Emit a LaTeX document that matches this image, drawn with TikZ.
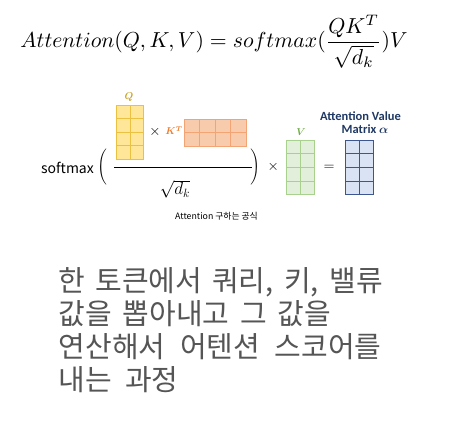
\documentclass[tikz,border=0pt]{standalone}
\usepackage{amsmath}
\usepackage{fontspec}
\newfontfamily\krfont{Noto Sans CJK KR}
\newfontfamily\calfont{Carlito}
\usetikzlibrary{calc}

\definecolor{qfill}{HTML}{FFE699}
\definecolor{qline}{HTML}{EBC142}
\definecolor{qtext}{HTML}{C9A227}
\definecolor{kfill}{HTML}{F8CBAD}
\definecolor{kline}{HTML}{F2A474}
\definecolor{ktext}{HTML}{ED7D31}
\definecolor{vfill}{HTML}{E2EFDA}
\definecolor{vline}{HTML}{A9D18E}
\definecolor{vtext}{HTML}{70AD47}
\definecolor{afill}{HTML}{DAE3F3}
\definecolor{aline}{HTML}{3D5590}
\definecolor{navy}{HTML}{1F3864}
\definecolor{bodytext}{HTML}{555555}

% stretchable word gaps for the Korean paragraph
\newcommand{\widegaps}{\setlength{\spaceskip}{8pt plus 40pt minus 6pt}}
% one paragraph line spread to a set width
\newcommand{\spreadline}[2]{\makebox[#1][s]{#2}}

% grid lines inside a matrix node: column fractions, row fractions
\newcommand{\matgrid}[4]{%
  \foreach \f in {#2}
    \draw[#4] ($(#1.north west)!\f!(#1.north east)$) -- ($(#1.south west)!\f!(#1.south east)$);
  \foreach \f in {#3}
    \draw[#4] ($(#1.north west)!\f!(#1.south west)$) -- ($(#1.north east)!\f!(#1.south east)$);
}

\begin{document}
\begin{tikzpicture}[x=1pt,y=-1pt,
  mat/.style={draw, line width=1pt, inner sep=0pt, outer sep=0pt},
  matlabel/.style={font=\fontsize{10}{12}\selectfont\bfseries\itshape, inner sep=0pt},
  op/.style={font=\fontsize{14}{16}\selectfont, inner sep=0pt},
  paren/.style={font=\fontsize{13}{15}\selectfont, inner sep=0pt},
  para/.style={font=\krfont\fontsize{29}{33}\selectfont\widegaps,
               text=bodytext, anchor=base west, inner sep=0pt},
  albl/.style={font=\calfont\bfseries\fontsize{12.5}{14}\selectfont, text=navy, inner sep=0pt}
]
\useasboundingbox (0,0) rectangle (475,436);

% top formula
\node[anchor=base west, inner sep=0pt, font=\fontsize{10}{12}\selectfont, scale=2.17] (eq) at (20,48)
  {$\displaystyle Attention(Q,K,V)=softmax(\frac{QK^T}{\sqrt{d_k}})V$};

% softmax of the scaled product
\node[font=\krfont\fontsize{14}{16}\selectfont, inner sep=0pt] (sm) at (67.5,167.5) {softmax};
\node[paren] (lp) at (102,167.5) {$\Biggl($};
\node[paren] (rp) at (255,167.5) {$\Biggr)$};
\coordinate (barL) at (114,167.7);
\coordinate (barR) at (252,167.7);
\draw[line width=1.3pt] (barL) -- (barR);
\node[font=\fontsize{18}{20}\selectfont, inner sep=0pt] (dk) at (175,189) {$\sqrt{d_k}$};

% Q matrix
\node[mat, draw=qline, fill=qfill, minimum width=27pt, minimum height=54pt] (Q) at (130.2,132.3) {};
\matgrid{Q}{0.5}{0.25,0.5,0.75}{qline, line width=1pt}
\node[matlabel, text=qtext] (Ql) at (129,97.5) {$\boldsymbol{Q}$};

\node[op] (x1) at (155,131.7) {$\times$};

% K^T matrix
\node[matlabel, text=ktext] (Kl) at (174,130.7) {$\boldsymbol{K^T}$};
\node[mat, draw=kline, fill=kfill, minimum width=62pt, minimum height=26.7pt] (K) at (215,132.7) {};
\matgrid{K}{0.25,0.5,0.75}{0.5}{kline, line width=1pt}

\node[op] (x2) at (273.3,167.3) {$\times$};

% V matrix
\node[matlabel, text=vtext] (Vl) at (301,131.7) {$\boldsymbol{V}$};
\node[mat, draw=vline, fill=vfill, minimum width=28pt, minimum height=54.4pt] (V) at (300,167.5) {};
\matgrid{V}{0.5}{0.25,0.5,0.75}{vline, line width=1pt}

\node[op] (eqs) at (329.2,168.3) {$=$};

% attention value matrix
\node[albl] (al1) at (360.5,116) {Attention Value};
\node[albl] (al2) at (365,129.5) {Matrix $\boldsymbol{\alpha}$};
\node[mat, draw=aline, fill=afill, minimum width=28.4pt, minimum height=54.4pt] (A) at (359.5,167.5) {};
\matgrid{A}{0.5}{0.25,0.5,0.75}{aline, line width=1pt}

% caption
\node[font=\krfont\fontsize{8.8}{10}\selectfont, anchor=west, inner sep=0pt] (cap) at (175,216.7) {Attention 구하는 공식};

% explanation
\node[para] (l1) at (58.5,291) {\spreadline{324pt}{한 토큰에서 쿼리, 키, 밸류}};
\node[para] (l2) at (58.5,324.3) {\spreadline{272pt}{값을 뽑아내고 그 값을}};
\node[para] (l3) at (58.5,357.7) {\spreadline{323pt}{연산해서 어텐션 스코어를}};
\node[para] (l4) at (58.5,391) {\spreadline{120pt}{내는 과정}};
\end{tikzpicture}
\end{document}
